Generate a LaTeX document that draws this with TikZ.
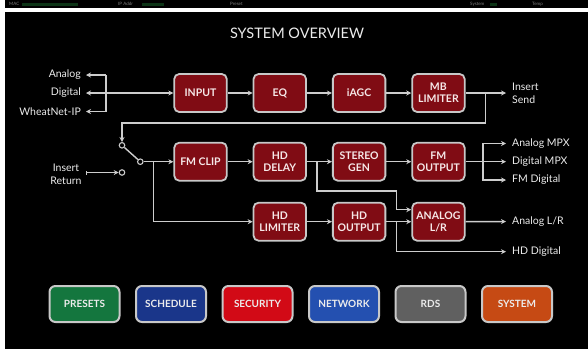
\documentclass[tikz,border=0pt]{standalone}
\usepackage{fontspec}
\setmainfont{Lato}
\usetikzlibrary{arrows.meta}
\definecolor{boxred}{RGB}{128,12,20}
\definecolor{boxtext}{RGB}{246,232,232}
\definecolor{wire}{RGB}{205,205,205}
\definecolor{rim}{RGB}{200,200,200}
\definecolor{labeltext}{RGB}{236,236,236}
\definecolor{stripval}{RGB}{12,52,22}
\definecolor{presetgreen}{RGB}{20,118,62}
\definecolor{schedblue}{RGB}{26,54,138}
\definecolor{securred}{RGB}{210,10,22}
\definecolor{netblue}{RGB}{36,80,176}
\definecolor{rdsgray}{RGB}{96,96,96}
\definecolor{sysorange}{RGB}{198,74,20}

\begin{document}
\begin{tikzpicture}[x=1pt, y=-1pt, node distance=79.3pt, >={Stealth[length=5pt,width=5pt]}]
\tikzstyle{block}=[rectangle, rounded corners=5pt, draw=rim, line width=1.8pt, fill=boxred, text=boxtext, align=center, inner sep=1pt, minimum width=52.5pt, minimum height=38pt, font=\fontsize{10.5}{12}\selectfont\bfseries]
\tikzstyle{button}=[rectangle, rounded corners=6pt, draw=rim, line width=2pt, text=labeltext, inner sep=1pt, minimum width=70pt, minimum height=36pt, font=\fontsize{10}{11.5}\selectfont\bfseries]
\tikzstyle{insig}=[anchor=east, align=center, inner sep=0pt, inner xsep=5pt, text=labeltext, font=\fontsize{10.5}{13}\selectfont]
\tikzstyle{outsig}=[anchor=west, align=left, inner sep=0pt, inner xsep=6pt, text=labeltext, font=\fontsize{10.5}{13}\selectfont]
\tikzstyle{term}=[circle, draw=wire, line width=1.1pt, fill=black, minimum size=5.5pt, inner sep=0pt]
\tikzstyle{conn}=[draw=wire, line width=1.4pt]
\tikzstyle{strip}=[anchor=west, inner sep=0pt, text=gray, font=\fontsize{4.5}{5}\selectfont]
%
\useasboundingbox (0,0) rectangle (588,349);
\fill [white] (0,0) rectangle (588,349);
\fill [black] (4.5,0) rectangle (588,8.3);
\fill [black] (4.5,11.7) rectangle (588,349);
%
% status strip
\node [strip] (mac) at (9,4.2) {MAC};
\fill [stripval] (22,2.6) rectangle (78,5.6);
\node [strip] (ipaddr) at (118,4.2) {IP Addr};
\fill [stripval] (142,2.6) rectangle (164,5.6);
\node [strip] (preset) at (230,4.2) {Preset};
\node [strip] (system) at (470,4.2) {System};
\fill [stripval] (490,2.6) rectangle (497,5.6);
\node [strip] (temp) at (532,4.2) {Temp};
%
\node [text=labeltext, font=\fontsize{14.5}{16}\selectfont] (heading) at (297,33) {SYSTEM OVERVIEW};
%
\begin{scope}

\node [block] (input) at (200.5,93) {INPUT};
\node [block] (eq) [right of=input] {EQ};
\node [block] (iagc) [right of=eq] {iAGC};
\node [block] (mblim) [right of=iagc] {MB\\LIMITER};
\node [block] (fmclip) [node distance=68.7pt, below of=input] {FM CLIP};
\node [block] (hddelay) [right of=fmclip] {HD\\DELAY};
\node [block] (stereo) [right of=hddelay] {STEREO\\GEN};
\node [block] (fmout) [right of=stereo] {FM\\OUTPUT};
\node [block] (hdlim) [node distance=60pt, below of=hddelay] {HD\\LIMITER};
\node [block] (hdout) [right of=hdlim] {HD\\OUTPUT};
\node [block] (analog) [right of=hdout] {ANALOG\\L/R};

% sources
\node [insig] (analogin) at (86,75) {Analog};
\node [insig] (digitalin) at (86,93) {Digital};
\node [insig] (wheatin) at (86,111.5) {WheatNet-IP};
\node [insig, anchor=center, inner xsep=0pt] (iret) at (66,174) {Insert\\Return};
\coordinate (inbus) at (106,93);
\draw [conn, <-] (analogin.east) -- (analogin.east -| inbus);
\draw [conn, <-] (digitalin.east) -- (inbus);
\draw [conn, <-] (wheatin.east) -- (wheatin.east -| inbus);
\draw [conn] (analogin.east -| inbus) -- (wheatin.east -| inbus);
\draw [conn, ->] (inbus) -- (input);

% chain 1
\draw [conn, ->] (input) -- (eq);
\draw [conn, ->] (eq) -- (iagc);
\draw [conn, ->] (iagc) -- (mblim);
\node [outsig] (isend) at (506,93) {Insert\\Send};
\draw [conn, ->] (mblim) -- (isend);

% insert switch
\node [term] (swa) at (122,145.3) {};
\node [term] (swb) at (122,172.5) {};
\node [term] (swc) at (140.3,161.7) {};
\draw [conn] (swc) -- (swa);
\coordinate (sendtap) at (485.6,93);
\draw [conn, ->] (sendtap) -- ++(0,30) -| (swa);
\draw [conn, {Bar[width=4pt]}->] (swb -| 86,0) -- (swb);

% chain 2
\draw [conn, ->] (swc) -- (fmclip);
\coordinate (cliptap) at (153.3,161.7);
\draw [conn, ->] (cliptap) |- (hdlim);
\draw [conn, ->] (fmclip) -- (hddelay);
\draw [conn, ->] (hddelay) -- (stereo);
\draw [conn, ->] (stereo) -- (fmout);
\coordinate (delaytap) at (317,161.7);
\coordinate (delayjog) at (396.7,191);
\draw [conn, ->] (delaytap) |- (delayjog) |- ([yshift=12pt]analog.west);

% chain 3
\draw [conn, ->] (hdlim) -- (hdout);
\draw [conn, ->] (hdout) -- (analog);

% outputs
\node [outsig] (amp) at (506,143.5) {Analog MPX};
\node [outsig] (dmp) at (506,161.7) {Digital MPX};
\node [outsig] (fmd) at (506,180) {FM Digital};
\node [outsig] (alr) at (506,221.5) {Analog L/R};
\node [outsig] (hddig) at (506,251.7) {HD Digital};
\coordinate (mpxbus) at (483,161.7);
\draw [conn] (fmout) -- (mpxbus);
\draw [conn, ->] (mpxbus) |- (amp);
\draw [conn, ->] (mpxbus) -- (dmp);
\draw [conn, ->] (mpxbus) |- (fmd);
\draw [conn, ->] (analog) -- (alr);
\coordinate (hdtap) at (396.7,221.5);
\draw [conn, ->] (hdtap) |- (hddig);
\end{scope}
%
\begin{scope}[node distance=86.5pt]
\node [button, fill=presetgreen] (presets) at (84.5,304) {PRESETS};
\node [button, fill=schedblue] (schedule) [right of=presets] {SCHEDULE};
\node [button, fill=securred] (security) [right of=schedule] {SECURITY};
\node [button, fill=netblue] (network) [right of=security] {NETWORK};
\node [button, fill=rdsgray] (rds) [right of=network] {RDS};
\node [button, fill=sysorange] (sysbtn) [right of=rds] {SYSTEM};
\end{scope}
%
\end{tikzpicture}
\end{document}
